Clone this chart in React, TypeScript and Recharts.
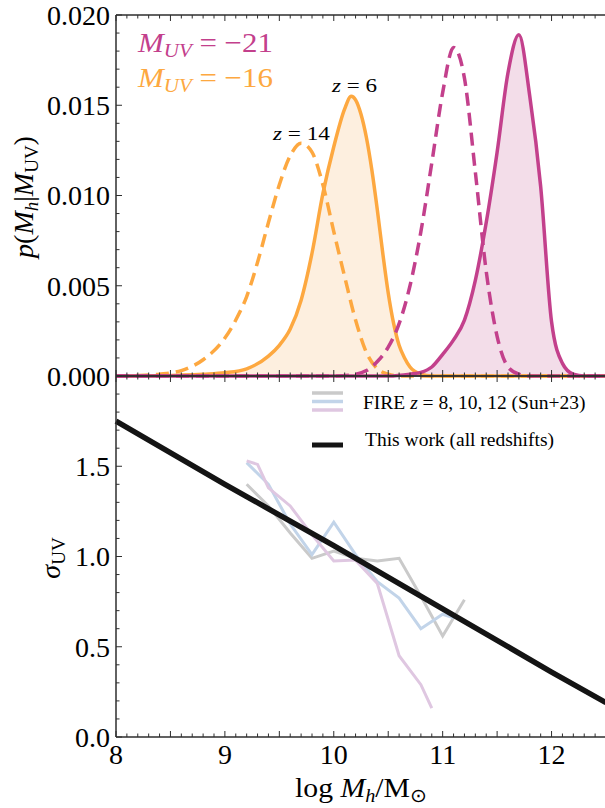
import { ComposedChart, Area, Line, XAxis, YAxis } from "recharts";

const W = 607;
const H = 808;
const FONT = "'Liberation Serif', 'Times New Roman', Times, serif";
const PINK = "#c3408c";
const ORANGE = "#fda840";
const PINK_FILL = "#f3dde9";
const ORANGE_FILL = "#fdefdf";
const AXIS = "#2e2e2e";

// top panel: p(Mh | MUV)
const orangeZ6X = [8.0, 8.4, 8.8, 9.0, 9.2, 9.4, 9.5, 9.6, 9.7, 9.8, 9.9, 10.0, 10.1, 10.16, 10.2, 10.25, 10.3, 10.35, 10.4, 10.45, 10.5, 10.55, 10.6, 10.65, 10.7, 10.8, 10.9, 12.5];
const orangeZ6P = [0, 0.00002, 0.0001, 0.00018, 0.0004, 0.0011, 0.0017, 0.0026, 0.0042, 0.0068, 0.0101, 0.0127, 0.0148, 0.0155, 0.0153, 0.0145, 0.0132, 0.0114, 0.0092, 0.0068, 0.0046, 0.0029, 0.0017, 0.001, 0.0005, 0.0001, 0, 0];

const orangeZ14X = [8.0, 8.2, 8.4, 8.6, 8.8, 9.0, 9.1, 9.2, 9.3, 9.4, 9.5, 9.6, 9.7, 9.8, 9.9, 10.0, 10.1, 10.2, 10.3, 10.4, 10.5, 10.6, 12.5];
const orangeZ14P = [0.00001, 0.00003, 0.0001, 0.0003, 0.0009, 0.0021, 0.0031, 0.0044, 0.0063, 0.0085, 0.0106, 0.0122, 0.0129, 0.0124, 0.0106, 0.008, 0.0055, 0.0031, 0.0013, 0.0004, 0.0001, 0, 0];

const pinkZ14X = [8.0, 10.0, 10.2, 10.3, 10.4, 10.5, 10.6, 10.7, 10.8, 10.9, 11.0, 11.1, 11.2, 11.3, 11.4, 11.5, 11.6, 11.7, 11.8, 12.5];
const pinkZ14P = [0, 0, 0.0001, 0.0003, 0.0008, 0.0016, 0.0029, 0.005, 0.008, 0.0118, 0.0157, 0.0182, 0.0165, 0.0113, 0.0058, 0.0022, 0.0005, 0.0001, 0, 0];

const pinkZ6X = [8.0, 10.5, 10.7, 10.8, 10.9, 11.0, 11.1, 11.2, 11.3, 11.4, 11.5, 11.6, 11.7, 11.8, 11.9, 12.0, 12.1, 12.2, 12.3, 12.5];
const pinkZ6P = [0, 0, 0.0001, 0.0002, 0.0005, 0.0012, 0.002, 0.0031, 0.0053, 0.0085, 0.0124, 0.0168, 0.0189, 0.0155, 0.0105, 0.003, 0.0007, 0.0001, 0, 0];

// bottom panel: sigma_UV
const fireX = [9.2, 9.4, 9.6, 9.8, 10.0, 10.2, 10.4, 10.6, 10.8, 11.0, 11.2];
const fireZ8 = [1.4, 1.28, 1.13, 0.99, 1.03, 0.99, 0.975, 0.99, 0.78, 0.56, 0.76];
const fireZ10X = [9.2, 9.4, 9.6, 9.8, 10.0, 10.2, 10.4, 10.6, 10.8, 11.0, 11.1];
const fireZ10 = [1.52, 1.4, 1.18, 1.01, 1.19, 1.01, 0.86, 0.77, 0.6, 0.68, 0.66];
const fireZ12X = [9.2, 9.3, 9.4, 9.6, 9.8, 10.0, 10.2, 10.4, 10.6, 10.8, 10.9];
const fireZ12 = [1.53, 1.51, 1.38, 1.28, 1.12, 0.975, 0.98, 0.85, 0.45, 0.29, 0.16];
const thisWorkX = [8, 9, 10, 11, 12, 12.5];
const thisWork = [1.75, 1.4, 1.06, 0.71, 0.36, 0.19];

const xLabels = [8, 9, 10, 11, 12];
const topYLabels = [0, 0.005, 0.01, 0.015, 0.02];
const botYLabels = [0, 0.5, 1.0, 1.5];

const range = (a: number, b: number, step: number) => {
  const out: number[] = [];
  for (let i = 0; a + i * step <= b + 1e-9; i++) out.push(+(a + i * step).toFixed(4));
  return out;
};
const xTicks = range(8, 12.5, 0.1);
const topYTicks = range(0, 0.02, 0.001);
const botYTicks = range(0, 2.0, 0.1);

function buildTable(series: { key: string; xs: number[]; ys: number[] }[]) {
  const rows = new Map<string, any>();
  for (const s of series) {
    s.xs.forEach((x, i) => {
      const k = x.toFixed(3);
      if (!rows.has(k)) rows.set(k, { x });
      rows.get(k)[s.key] = s.ys[i];
    });
  }
  return [...rows.values()].sort((a, b) => a.x - b.x);
}

const topData = buildTable([
  { key: "o6", xs: orangeZ6X, ys: orangeZ6P },
  { key: "o14", xs: orangeZ14X, ys: orangeZ14P },
  { key: "p14", xs: pinkZ14X, ys: pinkZ14P },
  { key: "p6", xs: pinkZ6X, ys: pinkZ6P },
]);

const botData = buildTable([
  { key: "f8", xs: fireX, ys: fireZ8 },
  { key: "f10", xs: fireZ10X, ys: fireZ10 },
  { key: "f12", xs: fireZ12X, ys: fireZ12 },
  { key: "tw", xs: thisWorkX, ys: thisWork },
]);

type Side = "left" | "right" | "top" | "bottom";

// inward ticks (matplotlib style), labels drawn only on the listed values
function makeTick(side: Side, majorStep: number, labels: number[], digits: number) {
  return (props: any) => {
    const { x, y, payload } = props;
    const v = payload.value as number;
    const major = Math.abs(v / majorStep - Math.round(v / majorStep)) < 1e-6;
    const len = major ? 6 : 3.5;
    const hasLabel = labels.some((l) => Math.abs(l - v) < 1e-9);
    let x2 = x;
    let y2 = y;
    if (side === "left") x2 = x + len;
    if (side === "right") x2 = x - len;
    if (side === "top") y2 = y + len;
    if (side === "bottom") y2 = y - len;
    return (
      <g>
        <line x1={x} y1={y} x2={x2} y2={y2} stroke={AXIS} strokeWidth={1} />
        {hasLabel && side === "left" && (
          <text x={x - 6} y={y} dy="0.35em" textAnchor="end" style={{ fontFamily: FONT }} fontSize={28} fill="#000">
            {v.toFixed(digits)}
          </text>
        )}
        {hasLabel && side === "bottom" && (
          <text x={x} y={y + 27} textAnchor="middle" style={{ fontFamily: FONT }} fontSize={28} fill="#000">
            {v.toFixed(digits)}
          </text>
        )}
      </g>
    );
  };
}

const axisLine = { stroke: AXIS, strokeWidth: 1.5 };

function TopPanel() {
  return (
    <ComposedChart
      width={W}
      height={H}
      data={topData}
      margin={{ top: 14, right: 0, bottom: H - 376 - 1, left: 0 }}
      style={{ position: "absolute", left: 0, top: 0 }}
    >
      <XAxis xAxisId="b" dataKey="x" type="number" domain={[8, 12.5]} ticks={xTicks} interval={0}
        height={1} tickSize={0} tickMargin={0} tickLine={false} axisLine={axisLine}
        tick={makeTick("bottom", 0.5, [], 0)} />
      <XAxis xAxisId="t" orientation="top" dataKey="x" type="number" domain={[8, 12.5]} ticks={xTicks} interval={0}
        height={1} tickSize={0} tickMargin={0} tickLine={false} axisLine={axisLine}
        tick={makeTick("top", 0.5, [], 0)} />
      <YAxis yAxisId="l" type="number" domain={[0, 0.02]} ticks={topYTicks} interval={0}
        width={116} tickSize={0} tickMargin={0} tickLine={false} axisLine={axisLine}
        tick={makeTick("left", 0.005, topYLabels, 3)} />
      <YAxis yAxisId="r" orientation="right" type="number" domain={[0, 0.02]} ticks={topYTicks} interval={0}
        width={1} tickSize={0} tickMargin={0} tickLine={false} axisLine={axisLine}
        tick={makeTick("right", 0.005, [], 3)} />
      <Area xAxisId="b" yAxisId="l" dataKey="o6" type="monotone" connectNulls fill={ORANGE_FILL} fillOpacity={1}
        stroke="none" isAnimationActive={false} />
      <Area xAxisId="b" yAxisId="l" dataKey="p6" type="monotone" connectNulls fill={PINK_FILL} fillOpacity={1}
        stroke="none" isAnimationActive={false} />
      <Line xAxisId="b" yAxisId="l" dataKey="o14" type="monotone" connectNulls stroke={ORANGE} strokeWidth={3.5}
        strokeDasharray="13 7" dot={false} isAnimationActive={false} />
      <Line xAxisId="b" yAxisId="l" dataKey="o6" type="monotone" connectNulls stroke={ORANGE} strokeWidth={3.5}
        dot={false} isAnimationActive={false} />
      <Line xAxisId="b" yAxisId="l" dataKey="p14" type="monotone" connectNulls stroke={PINK} strokeWidth={3.5}
        strokeDasharray="13 7" dot={false} isAnimationActive={false} />
      <Line xAxisId="b" yAxisId="l" dataKey="p6" type="monotone" connectNulls stroke={PINK} strokeWidth={3.5}
        dot={false} isAnimationActive={false} />
    </ComposedChart>
  );
}

function BottomPanel() {
  return (
    <ComposedChart
      width={W}
      height={H}
      data={botData}
      margin={{ top: 375, right: 0, bottom: H - 737 - 1, left: 0 }}
      style={{ position: "absolute", left: 0, top: 0 }}
    >
      <XAxis xAxisId="b" dataKey="x" type="number" domain={[8, 12.5]} ticks={xTicks} interval={0}
        height={1} tickSize={0} tickMargin={0} tickLine={false} axisLine={axisLine}
        tick={makeTick("bottom", 0.5, xLabels, 0)} />
      <XAxis xAxisId="t" orientation="top" dataKey="x" type="number" domain={[8, 12.5]} ticks={xTicks} interval={0}
        height={1} tickSize={0} tickMargin={0} tickLine={false} axisLine={axisLine}
        tick={makeTick("top", 0.5, [], 0)} />
      <YAxis yAxisId="l" type="number" domain={[0, 2]} ticks={botYTicks} interval={0}
        width={116} tickSize={0} tickMargin={0} tickLine={false} axisLine={axisLine}
        tick={makeTick("left", 0.5, botYLabels, 1)} />
      <YAxis yAxisId="r" orientation="right" type="number" domain={[0, 2]} ticks={botYTicks} interval={0}
        width={1} tickSize={0} tickMargin={0} tickLine={false} axisLine={axisLine}
        tick={makeTick("right", 0.5, [], 1)} />
      <Line xAxisId="b" yAxisId="l" dataKey="f8" type="linear" connectNulls stroke="#cacaca" strokeWidth={3}
        dot={false} isAnimationActive={false} />
      <Line xAxisId="b" yAxisId="l" dataKey="f10" type="linear" connectNulls stroke="#c2d4e9" strokeWidth={3}
        dot={false} isAnimationActive={false} />
      <Line xAxisId="b" yAxisId="l" dataKey="f12" type="linear" connectNulls stroke="#dfc7e1" strokeWidth={3}
        dot={false} isAnimationActive={false} />
      <Line xAxisId="b" yAxisId="l" dataKey="tw" type="linear" connectNulls stroke="#141414" strokeWidth={5.5}
        dot={false} isAnimationActive={false} />
    </ComposedChart>
  );
}

function Labels() {
  return (
    <svg width={605} height={808}
      style={{ position: "absolute", left: 0, top: 0, pointerEvents: "none", fontFamily: FONT }}>
      <text transform="translate(33,197) rotate(-90)" textAnchor="middle" fontSize={28} fill="#000">
        <tspan fontStyle="italic">p</tspan>(<tspan fontStyle="italic">M</tspan>
        <tspan fontStyle="italic" fontSize={19} dy={5}>h</tspan>
        <tspan dy={-5}>|</tspan>
        <tspan fontStyle="italic">M</tspan>
        <tspan fontSize={19} dy={5}>UV</tspan>
        <tspan dy={-5}>)</tspan>
      </text>
      <text transform="translate(60,558) rotate(-90)" textAnchor="middle" fontSize={28} fill="#000">
        <tspan fontStyle="italic">σ</tspan>
        <tspan fontSize={19} dy={5}>UV</tspan>
      </text>
      <text x={295} y={797} fontSize={28} fill="#000" textLength={132} lengthAdjust="spacingAndGlyphs">
        log <tspan fontStyle="italic">M</tspan>
        <tspan fontStyle="italic" fontSize={19} dy={5}>h</tspan>
        <tspan dy={-5}>/M</tspan>
        <tspan fontSize={19} dy={5}>⊙</tspan>
      </text>

      <text x={138} y={52} fontSize={28} fill={PINK} textLength={135} lengthAdjust="spacingAndGlyphs">
        <tspan fontStyle="italic">M</tspan>
        <tspan fontStyle="italic" fontSize={19} dy={5}>UV</tspan>
        <tspan dy={-5}> = −21</tspan>
      </text>
      <text x={138} y={87} fontSize={28} fill={ORANGE} textLength={135} lengthAdjust="spacingAndGlyphs">
        <tspan fontStyle="italic">M</tspan>
        <tspan fontStyle="italic" fontSize={19} dy={5}>UV</tspan>
        <tspan dy={-5}> = −16</tspan>
      </text>
      <text x={273} y={140} fontSize={19} fill="#000" textLength={57} lengthAdjust="spacingAndGlyphs">
        <tspan fontStyle="italic">z</tspan> = 14
      </text>
      <text x={332} y={92} fontSize={19} fill="#000" textLength={45} lengthAdjust="spacingAndGlyphs">
        <tspan fontStyle="italic">z</tspan> = 6
      </text>

      <line x1={312} x2={343} y1={393} y2={393} stroke="#cacaca" strokeWidth={3.5} />
      <line x1={312} x2={343} y1={401.5} y2={401.5} stroke="#c2d4e9" strokeWidth={3.5} />
      <line x1={312} x2={343} y1={410} y2={410} stroke="#dfc7e1" strokeWidth={3.5} />
      <text x={363} y={409} fontSize={19.5} fill="#000">
        FIRE <tspan fontStyle="italic">z</tspan> = 8, 10, 12 (Sun+23)
      </text>
      <line x1={312} x2={343} y1={445} y2={445} stroke="#141414" strokeWidth={5} />
      <text x={365} y={446} fontSize={19.5} fill="#000">
        This work (all redshifts)
      </text>
    </svg>
  );
}

export default function App() {
  return (
    <div style={{ position: "absolute", left: 0, top: 0, width: 605, height: 808, overflow: "hidden", background: "#fff" }}>
      <TopPanel />
      <BottomPanel />
      <Labels />
    </div>
  );
}
